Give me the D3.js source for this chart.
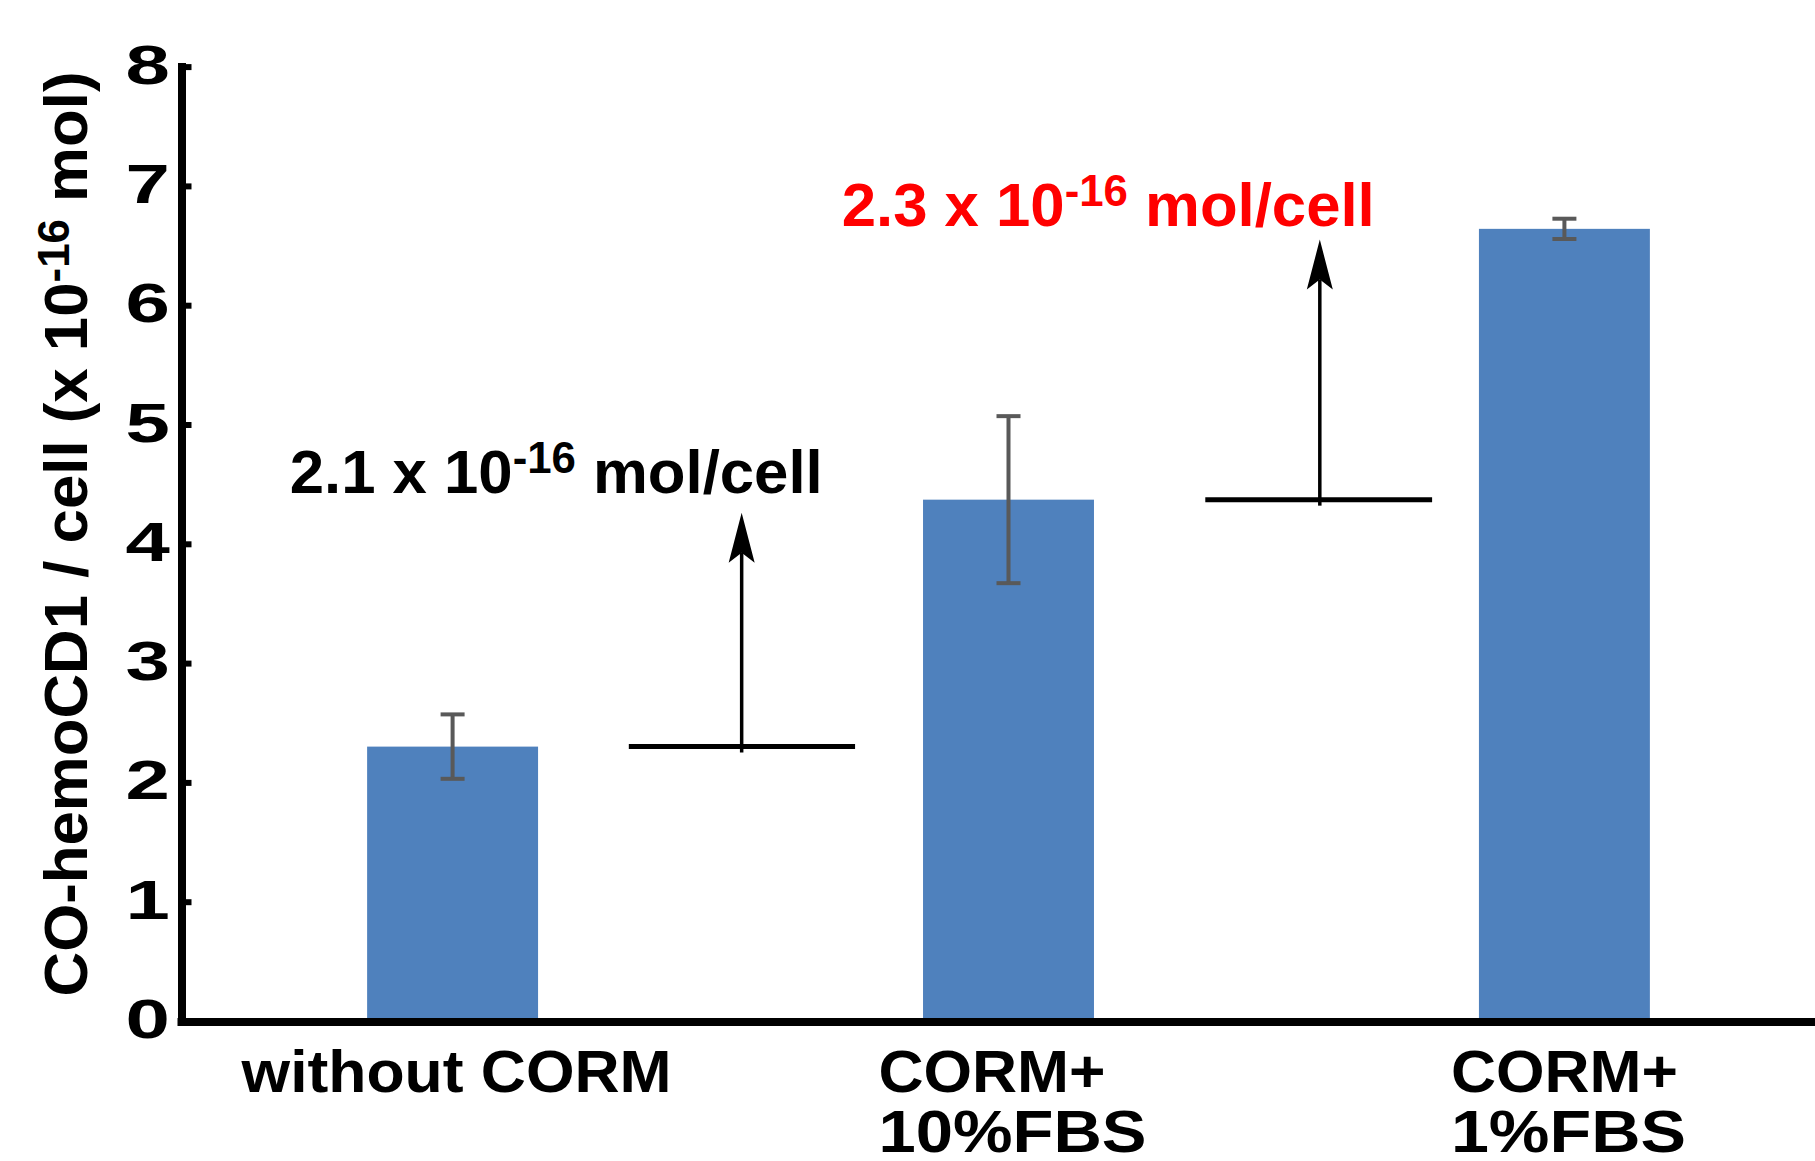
<!DOCTYPE html>
<html>
  <head>
    <meta charset="utf-8">
    <title>CO-hemoCD1 per cell</title>
    <script src="https://d3js.org/d3.v7.min.js"></script>
  </head>

  <style>
    body {
      margin: 0;
      background-color: #ffffff;
    }

    #chart text {
      font-family: 'Liberation Sans', Arial, sans-serif;
      font-weight: bold;
    }
  </style>

  <body>
    <div id="chart"></div>
    <script>

    // bar data
    var categories = ['without CORM', 'CORM+ 10%FBS', 'CORM+ 1%FBS'];
    var labelLines = [['without CORM'], ['CORM+', '10%FBS'], ['CORM+', '1%FBS']];
    var values = [2.30, 4.37, 6.64];
    var errors = [0.27, 0.70, 0.085];
    var yTicks = [0, 1, 2, 3, 4, 5, 6, 7, 8];

    // step lines + arrows between the bars (x given as category index)
    var stepLevel = [2.30, 4.37];
    var stepFrom = [0.317, 1.354];
    var stepTo = [0.724, 1.762];
    var arrowAt = [0.52, 1.56];
    var arrowTop = [4.26, 6.55];

    // annotation texts
    var annoMain = ['2.1 x 10', '2.3 x 10'];
    var annoExp = ['-16', '-16'];
    var annoUnit = [' mol/cell', ' mol/cell'];
    var annoColor = ['#000000', '#ff0000'];
    var annoAt = [-0.293, 0.70];
    var annoLevel = [4.43, 6.66];

    var width = 1815;
    var height = 1161;
    var axisX = 181.5;
    // the labels in the original are a bit wider than the font gives
    var labelWidths = [[430], [227, 268], [227, 235]];

    var svg = d3.select('#chart').append('svg')
      .attr('width', width)
      .attr('height', height);

    var yScale = d3.scaleLinear()
      .domain([0, 8])
      .range([1021, 66.6]);

    var xScale = d3.scaleBand()
      .domain(categories)
      .range([182, 1835])
      .paddingInner(0.6925)
      .paddingOuter(0.333);

    // category index -> pixel (bar centre)
    var ix = d3.scaleLinear()
      .domain([0, 1])
      .range([xScale(categories[0]) + xScale.bandwidth() / 2,
              xScale(categories[1]) + xScale.bandwidth() / 2]);

    // bars
    svg.append('g').selectAll('rect')
      .data(values)
      .enter().append('rect')
      .attr('x', function(d, i) { return xScale(categories[i]); })
      .attr('width', xScale.bandwidth())
      .attr('y', function(d) { return yScale(d); })
      .attr('height', function(d) { return yScale(0) - yScale(d); })
      .attr('fill', '#4f81bd');

    // error bars
    var err = svg.append('g')
      .attr('stroke', '#595959')
      .attr('stroke-width', 4);
    values.forEach(function(v, i) {
      var cx = xScale(categories[i]) + xScale.bandwidth() / 2;
      var top = yScale(v + errors[i]);
      var bot = yScale(v - errors[i]);
      err.append('line').attr('x1', cx).attr('x2', cx).attr('y1', top).attr('y2', bot);
      err.append('line').attr('x1', cx - 12).attr('x2', cx + 12).attr('y1', top).attr('y2', top);
      err.append('line').attr('x1', cx - 12).attr('x2', cx + 12).attr('y1', bot).attr('y2', bot);
    });

    // step lines and arrows
    var ann = svg.append('g');
    stepLevel.forEach(function(lv, i) {
      ann.append('line')
        .attr('x1', ix(stepFrom[i])).attr('x2', ix(stepTo[i]))
        .attr('y1', yScale(lv)).attr('y2', yScale(lv))
        .attr('stroke', '#000').attr('stroke-width', 5);
      var ax = ix(arrowAt[i]);
      var tip = yScale(arrowTop[i]);
      ann.append('line')
        .attr('x1', ax).attr('x2', ax)
        .attr('y1', yScale(lv) + 6).attr('y2', tip + 40)
        .attr('stroke', '#000').attr('stroke-width', 3.5);
      ann.append('path')
        .attr('d', 'M' + ax + ',' + tip + ' L' + (ax + 13) + ',' + (tip + 50) +
          ' L' + ax + ',' + (tip + 40) + ' L' + (ax - 13) + ',' + (tip + 50) + 'Z')
        .attr('fill', '#000');
    });

    // annotation texts
    annoMain.forEach(function(t, i) {
      var txt = svg.append('text')
        .attr('x', ix(annoAt[i]))
        .attr('y', yScale(annoLevel[i]))
        .attr('fill', annoColor[i])
        .style('font-size', '62px')
        .attr('textLength', 533)
        .attr('lengthAdjust', 'spacingAndGlyphs');
      txt.append('tspan').text(t);
      txt.append('tspan').attr('dy', -20).style('font-size', '44px').text(annoExp[i]);
      txt.append('tspan').attr('dy', 20).text(annoUnit[i]);
    });

    // y axis
    var yAxis = d3.axisLeft(yScale)
      .tickValues(yTicks)
      .tickFormat(d3.format('d'))
      .tickSizeInner(-10)
      .tickSizeOuter(0)
      .tickPadding(8);

    var yGuide = svg.append('g')
      .attr('transform', 'translate(' + axisX + ',0)')
      .call(yAxis);
    yGuide.select('.domain')
      .attr('stroke', '#000')
      .attr('stroke-width', 8)
      .attr('stroke-linecap', 'square');
    yGuide.selectAll('.tick line')
      .attr('stroke', '#000')
      .attr('stroke-width', 6);
    // tick digits are drawn wide in the original
    yGuide.selectAll('.tick text')
      .attr('fill', '#000')
      .attr('font-family', null)
      .attr('font-size', null)
      .attr('dy', '0.3em')
      .attr('transform', 'scale(1.45,1)')
      .style('font-size', '55px');

    // x axis line
    svg.append('line')
      .attr('x1', axisX - 4).attr('x2', width)
      .attr('y1', yScale(0) + 1).attr('y2', yScale(0) + 1)
      .attr('stroke', '#000')
      .attr('stroke-width', 8);

    // x labels: block centred under the bar, lines left aligned
    labelLines.forEach(function(lines, i) {
      var g = svg.append('g');
      var maxW = d3.max(labelWidths[i]);
      lines.forEach(function(l, j) {
        g.append('text')
          .attr('x', 0)
          .attr('y', 1092 + j * 60)
          .style('font-size', '60px')
          .attr('textLength', labelWidths[i][j])
          .attr('lengthAdjust', 'spacingAndGlyphs')
          .text(l);
      });
      var cx = xScale(categories[i]) + xScale.bandwidth() / 2;
      g.attr('transform', 'translate(' + (cx - maxW / 2 + 4) + ',0)');
    });

    // y title
    var title = svg.append('text')
      .attr('transform', 'translate(87,534) rotate(-90)')
      .attr('text-anchor', 'middle')
      .style('font-size', '62px')
      .attr('textLength', 925)
      .attr('lengthAdjust', 'spacingAndGlyphs');
    title.append('tspan').text('CO-hemoCD1 / cell (x 10');
    title.append('tspan').attr('dy', -18).style('font-size', '44px').text('-16');
    title.append('tspan').attr('dy', 18).text(' mol)');

    </script>
  </body>
</html>
